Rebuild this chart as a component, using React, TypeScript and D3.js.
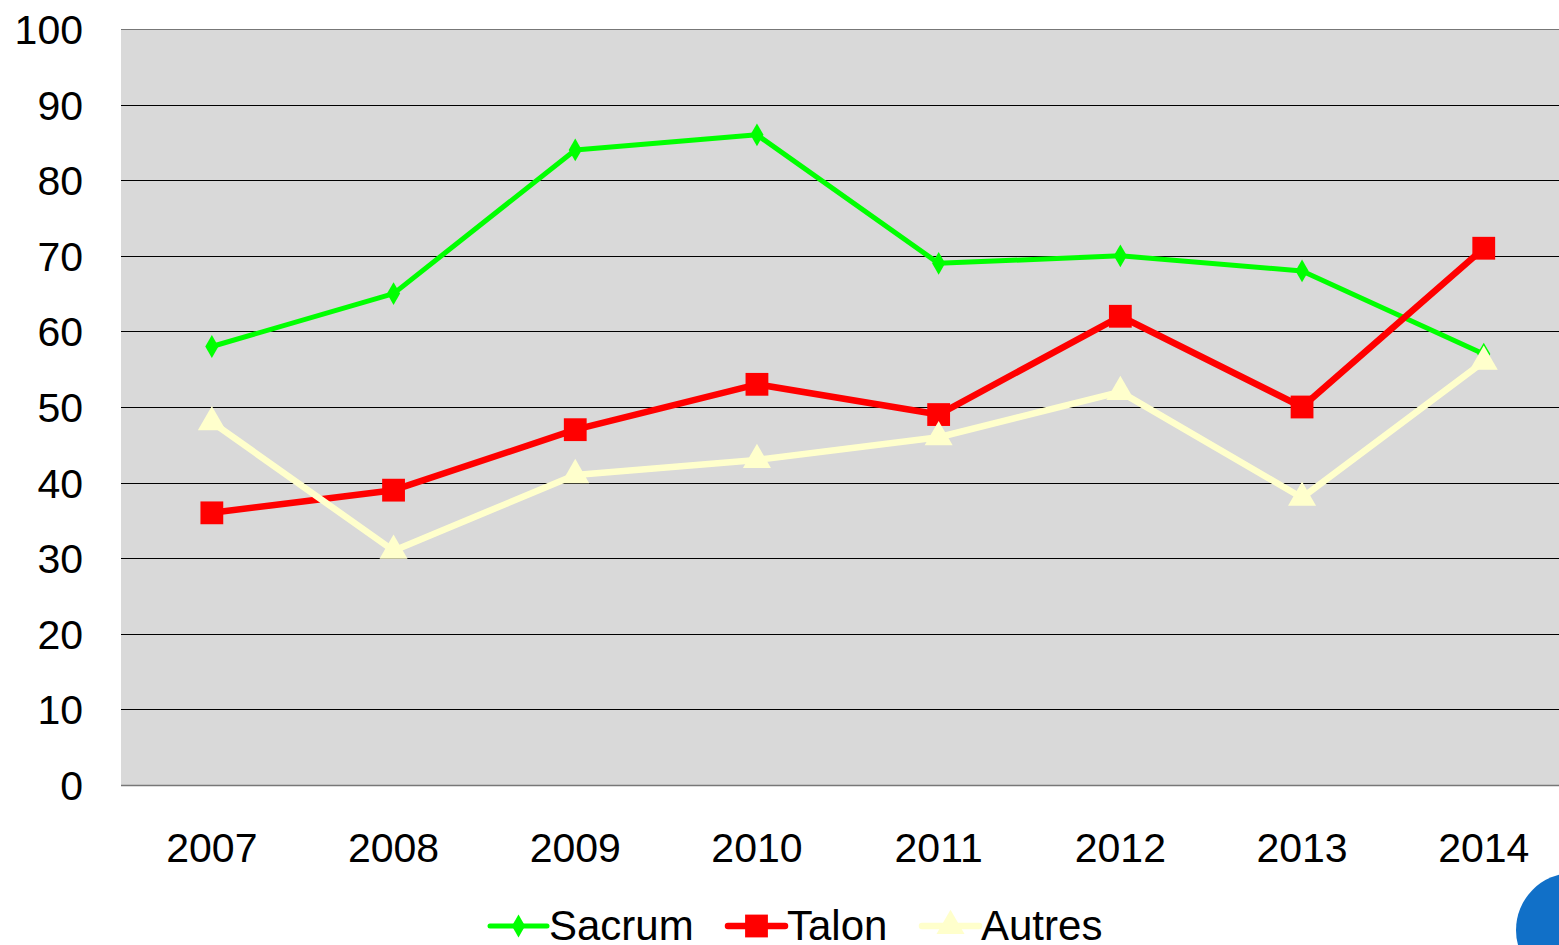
import React, { useEffect, useRef } from "react";
import * as d3 from "d3";

const years = ["2007", "2008", "2009", "2010", "2011", "2012", "2013", "2014"];
const sacrum = [58, 65, 84, 86, 69, 70, 68, 57];
const talon = [36, 39, 47, 53, 49, 62, 50, 71];
const autres = [48, 31, 41, 43, 46, 52, 38, 56];
const yTicks = [0, 10, 20, 30, 40, 50, 60, 70, 80, 90, 100];

const W = 1559;
const H = 945;

export default function App() {
	const svgRef = useRef<SVGSVGElement>(null);

	useEffect(() => {
		const svg = d3.select(svgRef.current);
		svg.selectAll("*").remove();

		const left = 121;
		const right = 1574.6;
		const top = 29;
		const bottom = 785;

		const x = d3.scalePoint().domain(years).range([left, right]).padding(0.5);
		const y = d3.scaleLinear().domain([0, 100]).range([bottom, top]);

		// plot background
		svg
			.append("rect")
			.attr("x", left)
			.attr("y", top)
			.attr("width", right - left)
			.attr("height", bottom - top)
			.attr("fill", "#d9d9d9");

		// gridlines
		svg
			.append("g")
			.selectAll("line")
			.data(yTicks)
			.enter()
			.append("line")
			.attr("x1", left)
			.attr("x2", right)
			.attr("y1", (d) => Math.round(y(d)) + 0.5)
			.attr("y2", (d) => Math.round(y(d)) + 0.5)
			.attr("stroke", (d) => (d === 0 || d === 100 ? "#777" : "#000"))
			.attr("stroke-width", (d) => (d === 0 ? 1.5 : 1));

		// y labels
		svg
			.append("g")
			.selectAll("text")
			.data(yTicks)
			.enter()
			.append("text")
			.attr("x", 83)
			.attr("y", (d) => y(d) + 15)
			.attr("text-anchor", "end")
			.attr("font-family", "Liberation Sans, Arial, sans-serif")
			.attr("font-size", 41)
			.attr("fill", "#000")
			.text((d) => d);

		// x labels
		svg
			.append("g")
			.selectAll("text")
			.data(years)
			.enter()
			.append("text")
			.attr("x", (d) => x(d)!)
			.attr("y", 862)
			.attr("text-anchor", "middle")
			.attr("font-family", "Liberation Sans, Arial, sans-serif")
			.attr("font-size", 41)
			.attr("fill", "#000")
			.text((d) => d);

		const series = [
			{ name: "Sacrum", values: sacrum, color: "#00ff00", width: 5, symbol: d3.symbolDiamond, size: 150, sx: 1 },
			{ name: "Talon", values: talon, color: "#ff0000", width: 6.5, symbol: d3.symbolSquare, size: 520, sx: 1 },
			{ name: "Autres", values: autres, color: "#ffffcc", width: 6.5, symbol: d3.symbolTriangle, size: 340, sx: 1 },
		];

		const line = d3
			.line<number>()
			.x((_, i) => x(years[i])!)
			.y((d) => y(d));

		series.forEach((s) => {
			const g = svg.append("g");
			g.append("path")
				.attr("d", line(s.values))
				.attr("fill", "none")
				.attr("stroke", s.color)
				.attr("stroke-width", s.width)
				.attr("stroke-linejoin", "round");
			g.selectAll("path.m")
				.data(s.values)
				.enter()
				.append("path")
				.attr("class", "m")
				.attr("d", d3.symbol().type(s.symbol).size(s.size)())
				.attr(
					"transform",
					(d, i) => `translate(${x(years[i])},${y(d)}) scale(${s.sx},1)`
				)
				.attr("fill", s.color);
		});

		// legend
		const legendX = [490, 728, 922];
		const legendY = 926;
		series.forEach((s, i) => {
			const g = svg.append("g").attr("transform", `translate(${legendX[i]},${legendY})`);
			g.append("line")
				.attr("x1", 0)
				.attr("x2", 57)
				.attr("y1", 0)
				.attr("y2", 0)
				.attr("stroke", s.color)
				.attr("stroke-width", s.width)
				.attr("stroke-linecap", "round");
			g.append("path")
				.attr("d", d3.symbol().type(s.symbol).size(s.size)())
				.attr("transform", `translate(28.5,0) scale(${s.sx},1)`)
				.attr("fill", s.color);
			g.append("text")
				.attr("x", 59)
				.attr("y", 14)
				.attr("font-family", "Liberation Sans, Arial, sans-serif")
				.attr("font-size", 42)
				.attr("fill", "#000")
				.text(s.name);
		});

		// blue corner button
		svg
			.append("circle")
			.attr("cx", 1573)
			.attr("cy", 930)
			.attr("r", 57)
			.attr("fill", "#1170c8");
	}, []);

	return (
		<svg
			ref={svgRef}
			width={W}
			height={H}
			style={{ position: "absolute", left: 0, top: 0, background: "#fff" }}
		/>
	);
}
